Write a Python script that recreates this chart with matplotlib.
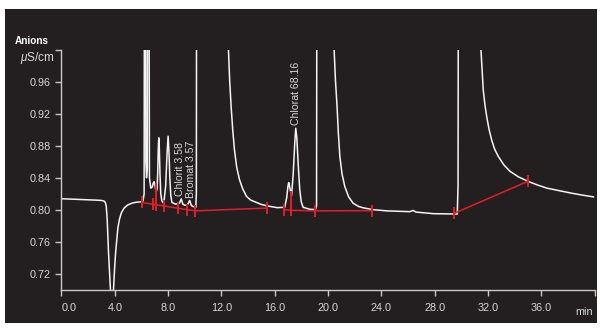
import matplotlib
matplotlib.use("Agg")
import matplotlib.pyplot as plt
from matplotlib.patches import Rectangle

plt.rcParams['font.family'] = ['Liberation Sans', 'DejaVu Sans']
plt.rcParams['mathtext.fontset'] = 'custom'
plt.rcParams['mathtext.it'] = 'Liberation Sans:italic'
plt.rcParams['mathtext.rm'] = 'Liberation Sans'

# ---- chromatogram trace (time in min, conductivity in uS/cm) ----
time_min = [
    0.00, 1.00, 2.00, 2.80, 3.10, 3.23, 3.30, 3.36, 3.43, 3.53, 3.66, 3.78, 3.91, 3.98,
    4.06, 4.23, 4.35, 4.49, 4.70, 4.98, 5.35, 5.73, 5.99, 6.12, 6.20, 6.24, 6.29, 6.33,
    6.38, 6.44, 6.48, 6.55, 6.60, 6.70, 6.80, 6.90, 6.95, 7.02, 7.10, 7.17, 7.22, 7.26,
    7.30, 7.34, 7.39, 7.45, 7.53, 7.61, 7.70, 7.82, 7.92, 8.00, 8.07, 8.13, 8.20, 8.29,
    8.55, 8.85, 8.99, 9.10, 9.25, 9.45, 9.62, 9.75, 9.95, 10.08, 10.12, 10.15, 12.45,
    12.53, 12.62, 12.73, 12.85, 12.98, 13.15, 13.36, 13.60, 13.88, 14.20, 14.63, 15.00,
    15.50, 16.20, 16.75, 16.90, 17.00, 17.05, 17.13, 17.26, 17.39, 17.51, 17.58, 17.66,
    17.77, 17.88, 17.99, 18.13, 18.63, 19.05, 19.14, 19.18, 20.40, 20.46, 20.56, 20.68,
    20.78, 20.89, 21.05, 21.26, 21.55, 21.89, 22.30, 22.60, 23.39, 24.40, 25.39, 26.14,
    26.39, 26.60, 27.90, 29.38, 29.70, 29.76, 29.80, 31.40, 31.48, 31.65, 31.78, 31.91,
    32.08, 32.28, 32.50, 32.78, 33.20, 33.66, 34.30, 35.03, 35.70, 36.42, 37.30, 38.17,
    39.00, 39.92,
]
signal_uS = [
    0.8137, 0.8130, 0.8124, 0.8118, 0.8113, 0.8104, 0.8085, 0.8040, 0.7875, 0.7460, 0.7040, 0.6600, 0.7040, 0.7250,
    0.7460, 0.7770, 0.7880, 0.7960, 0.8020, 0.8060, 0.8085, 0.8096, 0.8098, 0.8110, 0.8200, 1.3000, 1.3000, 0.8600,
    0.8400, 0.8500, 1.3000, 1.3000, 0.8400, 0.8270, 0.8280, 0.8340, 0.8350, 0.8300, 0.8220, 0.8260, 0.8450, 0.8750,
    0.8900, 0.8780, 0.8450, 0.8200, 0.8110, 0.8090, 0.8120, 0.8300, 0.8700, 0.8920, 0.8700, 0.8400, 0.8180, 0.8090,
    0.8070, 0.8080, 0.8135, 0.8070, 0.8055, 0.8060, 0.8115, 0.8050, 0.8035, 0.8030, 0.8200, 1.3000, 1.3000,
    1.0000, 0.9620, 0.9290, 0.9000, 0.8750, 0.8530, 0.8375, 0.8260, 0.8167, 0.8120, 0.8090, 0.8065,
    0.8045, 0.8025, 0.8030, 0.8150, 0.8300, 0.8340, 0.8280, 0.8170, 0.8450, 0.8850, 0.9020, 0.8900,
    0.8550, 0.8250, 0.8100, 0.8030, 0.8005, 0.8000, 0.8050, 1.3000, 1.3000, 1.0000, 0.9620, 0.9290,
    0.8950, 0.8667, 0.8450, 0.8290, 0.8160, 0.8080, 0.8040, 0.8025, 0.8000, 0.7985, 0.7980, 0.7975,
    0.7990, 0.7970, 0.7950, 0.7945, 0.7945, 0.8300, 1.3000, 1.3000, 1.0000, 0.9500, 0.9310, 0.9167,
    0.9010, 0.8875, 0.8760, 0.8667, 0.8560, 0.8480, 0.8410, 0.8354, 0.8310, 0.8270, 0.8240, 0.8210,
    0.8185, 0.8160,
]

# ---- integration baselines (red) ----
base1_t = [6.02, 6.85, 7.10, 7.67, 8.75, 9.40, 10.03, 15.43]
base1_y = [0.8090, 0.8068, 0.8062, 0.8047, 0.8018, 0.8001, 0.7985, 0.8020]
base2_t = [16.68, 17.23, 19.05, 23.31]
base2_y = [0.8000, 0.7992, 0.7985, 0.7988]
base3_t = [29.48, 35.00]
base3_y = [0.7955, 0.8355]
drop_t = [7.08, 17.26]
drop_top = [0.8330, 0.8230]
drop_bottom = [0.8040, 0.7965]

# ---- peak labels ----
peak_names = ["Chlorit 3.58", "Bromat 3.57", "Chlorat 68.16"]
peak_t = [8.99, 9.62, 17.58]
peak_y = [0.8135, 0.8115, 0.9020]
peak_dx = [-0.8, 0.8, 0.0]

x_ticks = [0, 4, 8, 12, 16, 20, 24, 28, 32, 36, 40]
x_tick_labels = ["0.0", "4.0", "8.0", "12.0", "16.0", "20.0", "24.0", "28.0", "32.0", "36.0", ""]
y_ticks = [0.72, 0.76, 0.80, 0.84, 0.88, 0.92, 0.96, 1.00]
y_tick_labels = ["0.72", "0.76", "0.80", "0.84", "0.88", "0.92", "0.96", ""]

BG = '#231f20'
FG = '#d8d8d8'
RED = '#e31e26'

fig = plt.figure(figsize=(6, 3.3), dpi=100)
fig.patch.set_facecolor('white')
fig.patches.append(Rectangle((5 / 600, 1 - 323 / 330), 592 / 600, 314 / 330,
                             transform=fig.transFigure, facecolor=BG,
                             edgecolor='none', zorder=-10))

ax = fig.add_axes([61.5 / 600, 1 - 289.5 / 330, 533 / 600, 239.5 / 330])
ax.set_facecolor('none')
ax.set_xlim(0, 40)
ax.set_ylim(0.70, 1.00)

ax.plot(time_min, signal_uS, color='#f4f4f4', lw=1.1, zorder=2)

for bt, by in [(base1_t, base1_y), (base2_t, base2_y), (base3_t, base3_y)]:
    ax.plot(bt, by, color=RED, lw=1.1, marker='|', markersize=9,
            markeredgewidth=1.4, zorder=3)
ax.vlines(drop_t, drop_bottom, drop_top, color=RED, lw=1.4, zorder=3)

for name, t, y, dx in zip(peak_names, peak_t, peak_y, peak_dx):
    ax.annotate(name, (t, y), xytext=(dx, 2), textcoords='offset points',
                rotation=90, ha='center', va='bottom', fontsize=7.6, color=FG)

for s in ['top', 'right']:
    ax.spines[s].set_visible(False)
for s in ['left', 'bottom']:
    ax.spines[s].set_color('#c8c8c8')
    ax.spines[s].set_linewidth(1.0)

ax.set_xticks(x_ticks)
ax.set_xticklabels(x_tick_labels)
ax.set_yticks(y_ticks)
ax.set_yticklabels(y_tick_labels)
ax.tick_params(axis='both', colors='#c8c8c8', labelcolor=FG, labelsize=7.8,
               length=4, width=1.0, direction='out')
ax.tick_params(axis='x', pad=6)
ax.tick_params(axis='y', pad=4)
ax.get_xticklabels()[0].set_horizontalalignment('left')

fig.text(15 / 600, 1 - 40.5 / 330, 'Anions', fontweight='bold', fontsize=7.2,
         color='white', ha='left', va='center')
fig.text(55 / 600, 1 - 58.3 / 330, r'$\mu$S/cm', fontsize=8.5, color=FG,
         ha='right', va='center')
fig.text(593 / 600, 1 - 311.7 / 330, 'min', fontsize=7.8, color=FG,
         ha='right', va='center')

fig.savefig('out.png', dpi=100, facecolor=fig.get_facecolor())
